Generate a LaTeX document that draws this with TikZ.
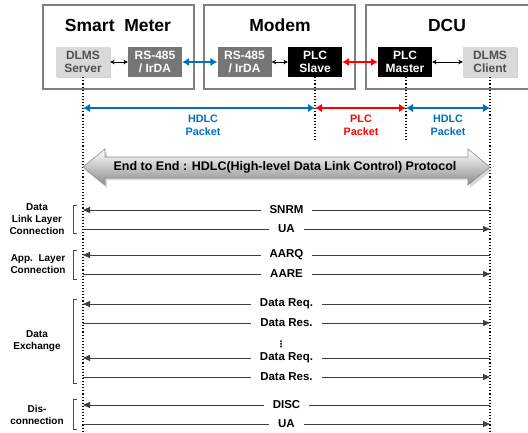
\documentclass[tikz,border=0pt]{standalone}
\usepackage{fontspec}
\setmainfont{Liberation Sans}
\newfontfamily\symfont{DejaVu Sans}
\usetikzlibrary{arrows.meta,shadows}

\definecolor{hdlcblue}{RGB}{0,112,192}
\definecolor{plcred}{RGB}{255,0,0}
\definecolor{boxgray}{RGB}{118,118,118}
\definecolor{lightbox}{RGB}{217,217,217}
\definecolor{textgray}{RGB}{80,80,80}
\definecolor{framegray}{RGB}{128,128,128}

\begin{document}
\begin{tikzpicture}[x=1pt,y=-1pt,>=Stealth,
    outer box/.style={draw=framegray,line width=1.3pt,minimum width=151,minimum height=84,inner sep=0},
    title/.style={font=\fontsize{17.5}{19}\selectfont\bfseries},
    dlms box/.style={fill=lightbox,text=textgray,minimum width=54,minimum height=30,inner sep=0,align=center,
        font=\fontsize{12}{13.5}\selectfont\bfseries,drop shadow={opacity=0.35,shadow xshift=0.8pt,shadow yshift=-1pt}},
    phy box/.style={fill=boxgray,text=white,minimum width=54,minimum height=30,inner sep=0,align=center,
        font=\fontsize{12}{13.5}\selectfont\bfseries},
    plc box/.style={fill=black,text=white,minimum width=54,minimum height=30,inner sep=0,align=center,
        font=\fontsize{12}{13.5}\selectfont\bfseries},
    link/.style={<->,>={Stealth[length=4.5pt,width=4.5pt]},line width=0.8pt},
    thick link/.style={<->,>={Latex[length=7pt,width=8.5pt]},line width=2.4pt},
    lifeline/.style={dotted,line width=1.1pt},
    packet/.style={align=center,font=\fontsize{10.8}{13}\selectfont\bfseries},
    msg/.style={draw=black!75,line width=0.8pt,>={Triangle[length=7pt,width=6pt]}},
    msg label/.style={fill=white,inner xsep=9pt,inner ysep=2pt,font=\fontsize{11.5}{13}\selectfont\bfseries},
    phase/.style={align=center,font=\fontsize{10}{12}\selectfont\bfseries},
    bracket/.style={draw=black!70,line width=0.7pt}]

\useasboundingbox (0,0) rectangle (528,432);

% devices
\node[outer box] (meter) at (118.5,47) {};
\node[outer box] (modem) at (279.5,47) {};
\node[outer box,minimum width=164] (dcu) at (448,47) {};
\node[title] at (118,25) {Smart\ \ Meter};
\node[title] at (280,25) {Modem};
\node[title] at (447,25) {DCU};

\node[dlms box] (server) at (83,62) {DLMS\\Server};
\node[phy box] (rsmeter) at (155,62) {RS-485\\/ IrDA};
\node[phy box] (rsmodem) at (244.5,62) {RS-485\\/ IrDA};
\node[plc box] (slave) at (315,62) {PLC\\Slave};
\node[plc box] (master) at (405,62) {PLC\\Master};
\node[dlms box] (client) at (490,62) {DLMS\\Client};

\draw[link] (server) -- (rsmeter);
\draw[thick link,hdlcblue] (rsmeter) -- (rsmodem);
\draw[link] (rsmodem) -- (slave);
\draw[thick link,plcred] (slave) -- (master);
\draw[link] (master) -- (client);

% lifelines
\coordinate (sbot) at (83,432);
\coordinate (cbot) at (490,432);
\coordinate (slbot) at (315,142);
\coordinate (mabot) at (406,142);
\draw[lifeline] (server.south) -- (sbot);
\draw[lifeline] (client.south) -- (cbot);
\draw[lifeline] (slave.south) -- (slbot);
\draw[lifeline] (master.south -| mabot) -- (mabot);

% packets
\coordinate (p1) at (83,108);
\coordinate (p2) at (315,108);
\coordinate (p3) at (406,108);
\coordinate (p4) at (490,108);
\draw[thick link,hdlcblue,line width=2pt] (p1) -- (p2);
\draw[thick link,plcred,line width=2pt] (p2) -- (p3);
\draw[thick link,hdlcblue,line width=2pt] (p3) -- (p4);
\node[packet,text=hdlcblue] (hdlc1) at (203,125) {HDLC\\Packet};
\node[packet,text=plcred] (plc) at (361,125) {PLC\\Packet};
\node[packet,text=hdlcblue] (hdlc2) at (448,125) {HDLC\\Packet};

% end to end arrow
\fill[black!25,opacity=0.6] (85,170) -- (107,152) -- (107,160) -- (470,160) -- (470,152) -- (492,170)
    -- (470,188) -- (470,180) -- (107,180) -- (107,188) -- cycle;
\shade[top color=white,bottom color=black!45,draw=black!45,line width=0.6pt]
    (83,167) -- (105,149) -- (105,157) -- (468,157) -- (468,149) -- (490,167)
    -- (468,185) -- (468,178) -- (105,178) -- (105,185) -- cycle;
\node[font=\fontsize{12.5}{14}\selectfont\bfseries] (e2e) at (285,167)
    {End to End : HDLC(High-level Data Link Control) Protocol};

% messages
\coordinate (l1) at (83,210); \coordinate (r1) at (490,210);
\coordinate (l2) at (83,229); \coordinate (r2) at (490,229);
\coordinate (l3) at (83,255); \coordinate (r3) at (490,255);
\coordinate (l4) at (83,274); \coordinate (r4) at (490,274);
\coordinate (l5) at (83,304); \coordinate (r5) at (490,304);
\coordinate (l6) at (83,323); \coordinate (r6) at (490,323);
\coordinate (l7) at (83,358); \coordinate (r7) at (490,358);
\coordinate (l8) at (83,377); \coordinate (r8) at (490,377);
\coordinate (l9) at (83,405); \coordinate (r9) at (490,405);
\coordinate (l10) at (83,424); \coordinate (r10) at (490,424);

\draw[msg,<-] (l1) -- node[msg label] {SNRM} (r1);
\draw[msg,->] (l2) -- node[msg label] {UA} (r2);
\draw[msg,<-] (l3) -- node[msg label] {AARQ} (r3);
\draw[msg,->] (l4) -- node[msg label] {AARE} (r4);
\draw[msg,<-] (l5) -- node[msg label] {Data Req.} (r5);
\draw[msg,->] (l6) -- node[msg label] {Data Res.} (r6);
\node[font=\fontsize{9}{9}\selectfont\symfont\bfseries,inner sep=0] (dots) at (281,344) {⋮};
\draw[msg,<-] (l7) -- node[msg label] {Data Req.} (r7);
\draw[msg,->] (l8) -- node[msg label] {Data Res.} (r8);
\draw[msg,<-] (l9) -- node[msg label] {DISC} (r9);
\draw[msg,->] (l10) -- node[msg label] {UA} (r10);

% phases
\draw[bracket] (77,205) -| (73,233) -- (77,233);
\draw[bracket] (77,250) -| (73,279) -- (77,279);
\draw[bracket] (77,299) -| (73,383) -- (77,383);
\draw[bracket] (77,399) -| (73,429) -- (77,429);
\node[phase] (dll) at (37,219) {Data\\Link Layer\\Connection};
\node[phase] (app) at (38,264) {App.\ \ Layer\\Connection};
\node[phase] (dex) at (37,341) {Data\\Exchange};
\node[phase] (dis) at (37,415) {Dis-\\connection};

\end{tikzpicture}
\end{document}
